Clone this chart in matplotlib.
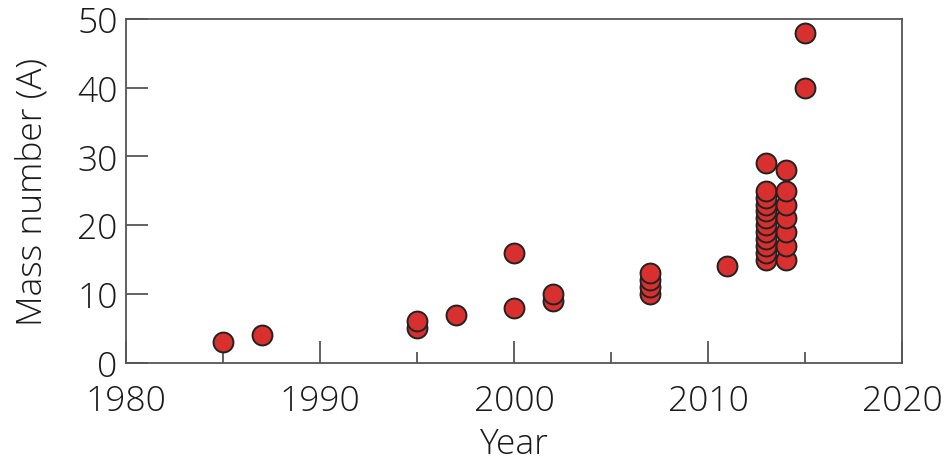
import numpy as np
import matplotlib.pyplot as plt
from matplotlib.ticker import MultipleLocator

plt.rcParams['font.family'] = ['Open Sans', 'DejaVu Sans']
plt.rcParams['font.weight'] = 300
plt.rcParams['axes.labelweight'] = 300

# discovery year and mass number of each point
years = [1985, 1987, 1995, 1995, 1997, 2000, 2000, 2002, 2002,
         2007, 2007, 2007, 2007, 2011,
         2013, 2013, 2013, 2013, 2013, 2013, 2013, 2013, 2013, 2013, 2013, 2013,
         2014, 2014, 2014, 2014, 2014, 2014, 2014,
         2015, 2015]
mass_numbers = [3, 4, 5, 6, 7, 8, 16, 9, 10,
                10, 11, 12, 13, 14,
                15, 16, 17, 18, 19, 20, 21, 22, 23, 24, 25, 29,
                15, 17, 19, 21, 23, 25, 28,
                40, 48]

fig = plt.figure(figsize=(9.45, 4.64), dpi=100)
ax = fig.add_axes([0.1333, 0.2162, 0.8212, 0.7408])

# draw in ascending order so upper points sit on top of the lower ones
order = np.lexsort((mass_numbers, years))
ax.scatter(np.array(years)[order], np.array(mass_numbers)[order], s=205,
           facecolor='#d8302f', edgecolor='#222222', linewidth=1.4,
           zorder=3, clip_on=False)

ax.set_xlim(1980, 2020)
ax.set_ylim(0, 50)
ax.xaxis.set_major_locator(MultipleLocator(10))
ax.xaxis.set_minor_locator(MultipleLocator(5))
ax.yaxis.set_major_locator(MultipleLocator(10))

for s in ax.spines.values():
    s.set_color('#555555')
    s.set_linewidth(1.3)

ax.tick_params(which='major', direction='in', length=16, width=1.3,
               color='#555555', labelsize=25.5, labelcolor='#1a1a1a')
ax.tick_params(which='minor', direction='in', length=8, width=1.3,
               color='#555555')
ax.tick_params(axis='x', which='both', top=False, pad=15)
ax.tick_params(axis='y', which='both', right=False, pad=6)

ax.set_xlabel('Year', fontsize=25.5, color='#1a1a1a', labelpad=6)
ax.set_ylabel('Mass number (A)', fontsize=25.5, color='#1a1a1a', labelpad=20)

fig.savefig('out.png', dpi=100)
